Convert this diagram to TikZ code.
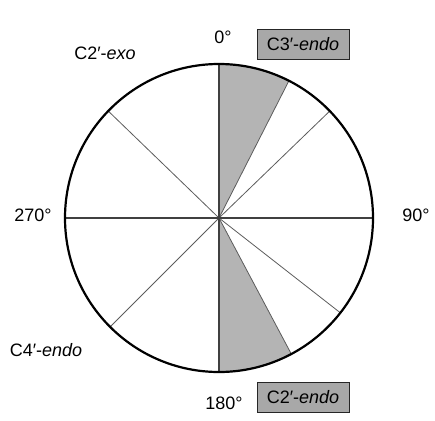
\documentclass[tikz,border=0pt]{standalone}
\usepackage{fontspec}
\setmainfont{Liberation Sans}
\usetikzlibrary{positioning}
\definecolor{sectorgray}{HTML}{B4B4B4}
\definecolor{boxgray}{HTML}{A8A8A8}
\definecolor{spokegray}{HTML}{5C5C5C}

\begin{document}
\begin{tikzpicture}[
  x=1pt, y=-1pt,
  rim/.style={draw=black, line width=2.2pt},
  spoke/.style={draw=spokegray, line width=0.8pt},
  axis/.style={draw=spokegray!70!black, line width=1.2pt},
  sector/.style={fill=sectorgray, draw=spokegray, line width=0.8pt},
  degree/.style={font=\fontsize{18}{21}\selectfont, inner sep=0pt},
  formbox/.style={draw=black!85, line width=0.9pt, fill=boxgray, minimum width=92pt, minimum height=30pt, inner sep=0pt, font=\fontsize{18}{21}\selectfont}
]
  \useasboundingbox (0,0) rectangle (435,420);

  % centre and points on the rim (clockwise from the top)
  \coordinate (o) at (219,218);
  \coordinate (p0) at ([shift={(-90:154)}]o);
  \coordinate (p27) at ([shift={(-63:154)}]o);
  \coordinate (p46) at ([shift={(-44:154)}]o);
  \coordinate (p90) at ([shift={(0:154)}]o);
  \coordinate (p128) at ([shift={(38:154)}]o);
  \coordinate (p152) at ([shift={(62:154)}]o);
  \coordinate (p180) at ([shift={(90:154)}]o);
  \coordinate (p225) at ([shift={(135:154)}]o);
  \coordinate (p270) at ([shift={(180:154)}]o);
  \coordinate (p314) at ([shift={(224:154)}]o);

  % shaded ranges
  \filldraw[sector] (o) -- (p0) arc[start angle=-90, end angle=-63, radius=154] -- cycle;
  \filldraw[sector] (o) -- (p152) arc[start angle=62, end angle=90, radius=154] -- cycle;

  % spokes
  \draw[spoke] (o) -- (p46);
  \draw[spoke] (o) -- (p128);
  \draw[spoke] (o) -- (p225);
  \draw[spoke] (o) -- (p314);
  \draw[axis] (p0) -- (p180);
  \draw[axis] (p270) -- (p90);

  \draw[rim] (o) circle[radius=154];

  % labels
  \node[degree] (deg0) at (223,37) {0°};
  \node[formbox] (north) at (303,44) {C3′-\textit{endo}};
  \node[degree] (deg90) at (416,215) {90°};
  \node[degree] (deg180) at (224,403) {180°};
  \node[formbox] (south) at (303,397) {C2′-\textit{endo}};
  \node[degree] (deg270) at (33,215) {270°};
  \node[degree] (exo) at (105,53) {C2′-\textit{exo}};
  \node[degree] (c4endo) at (46,350) {C4′-\textit{endo}};
\end{tikzpicture}
\end{document}
